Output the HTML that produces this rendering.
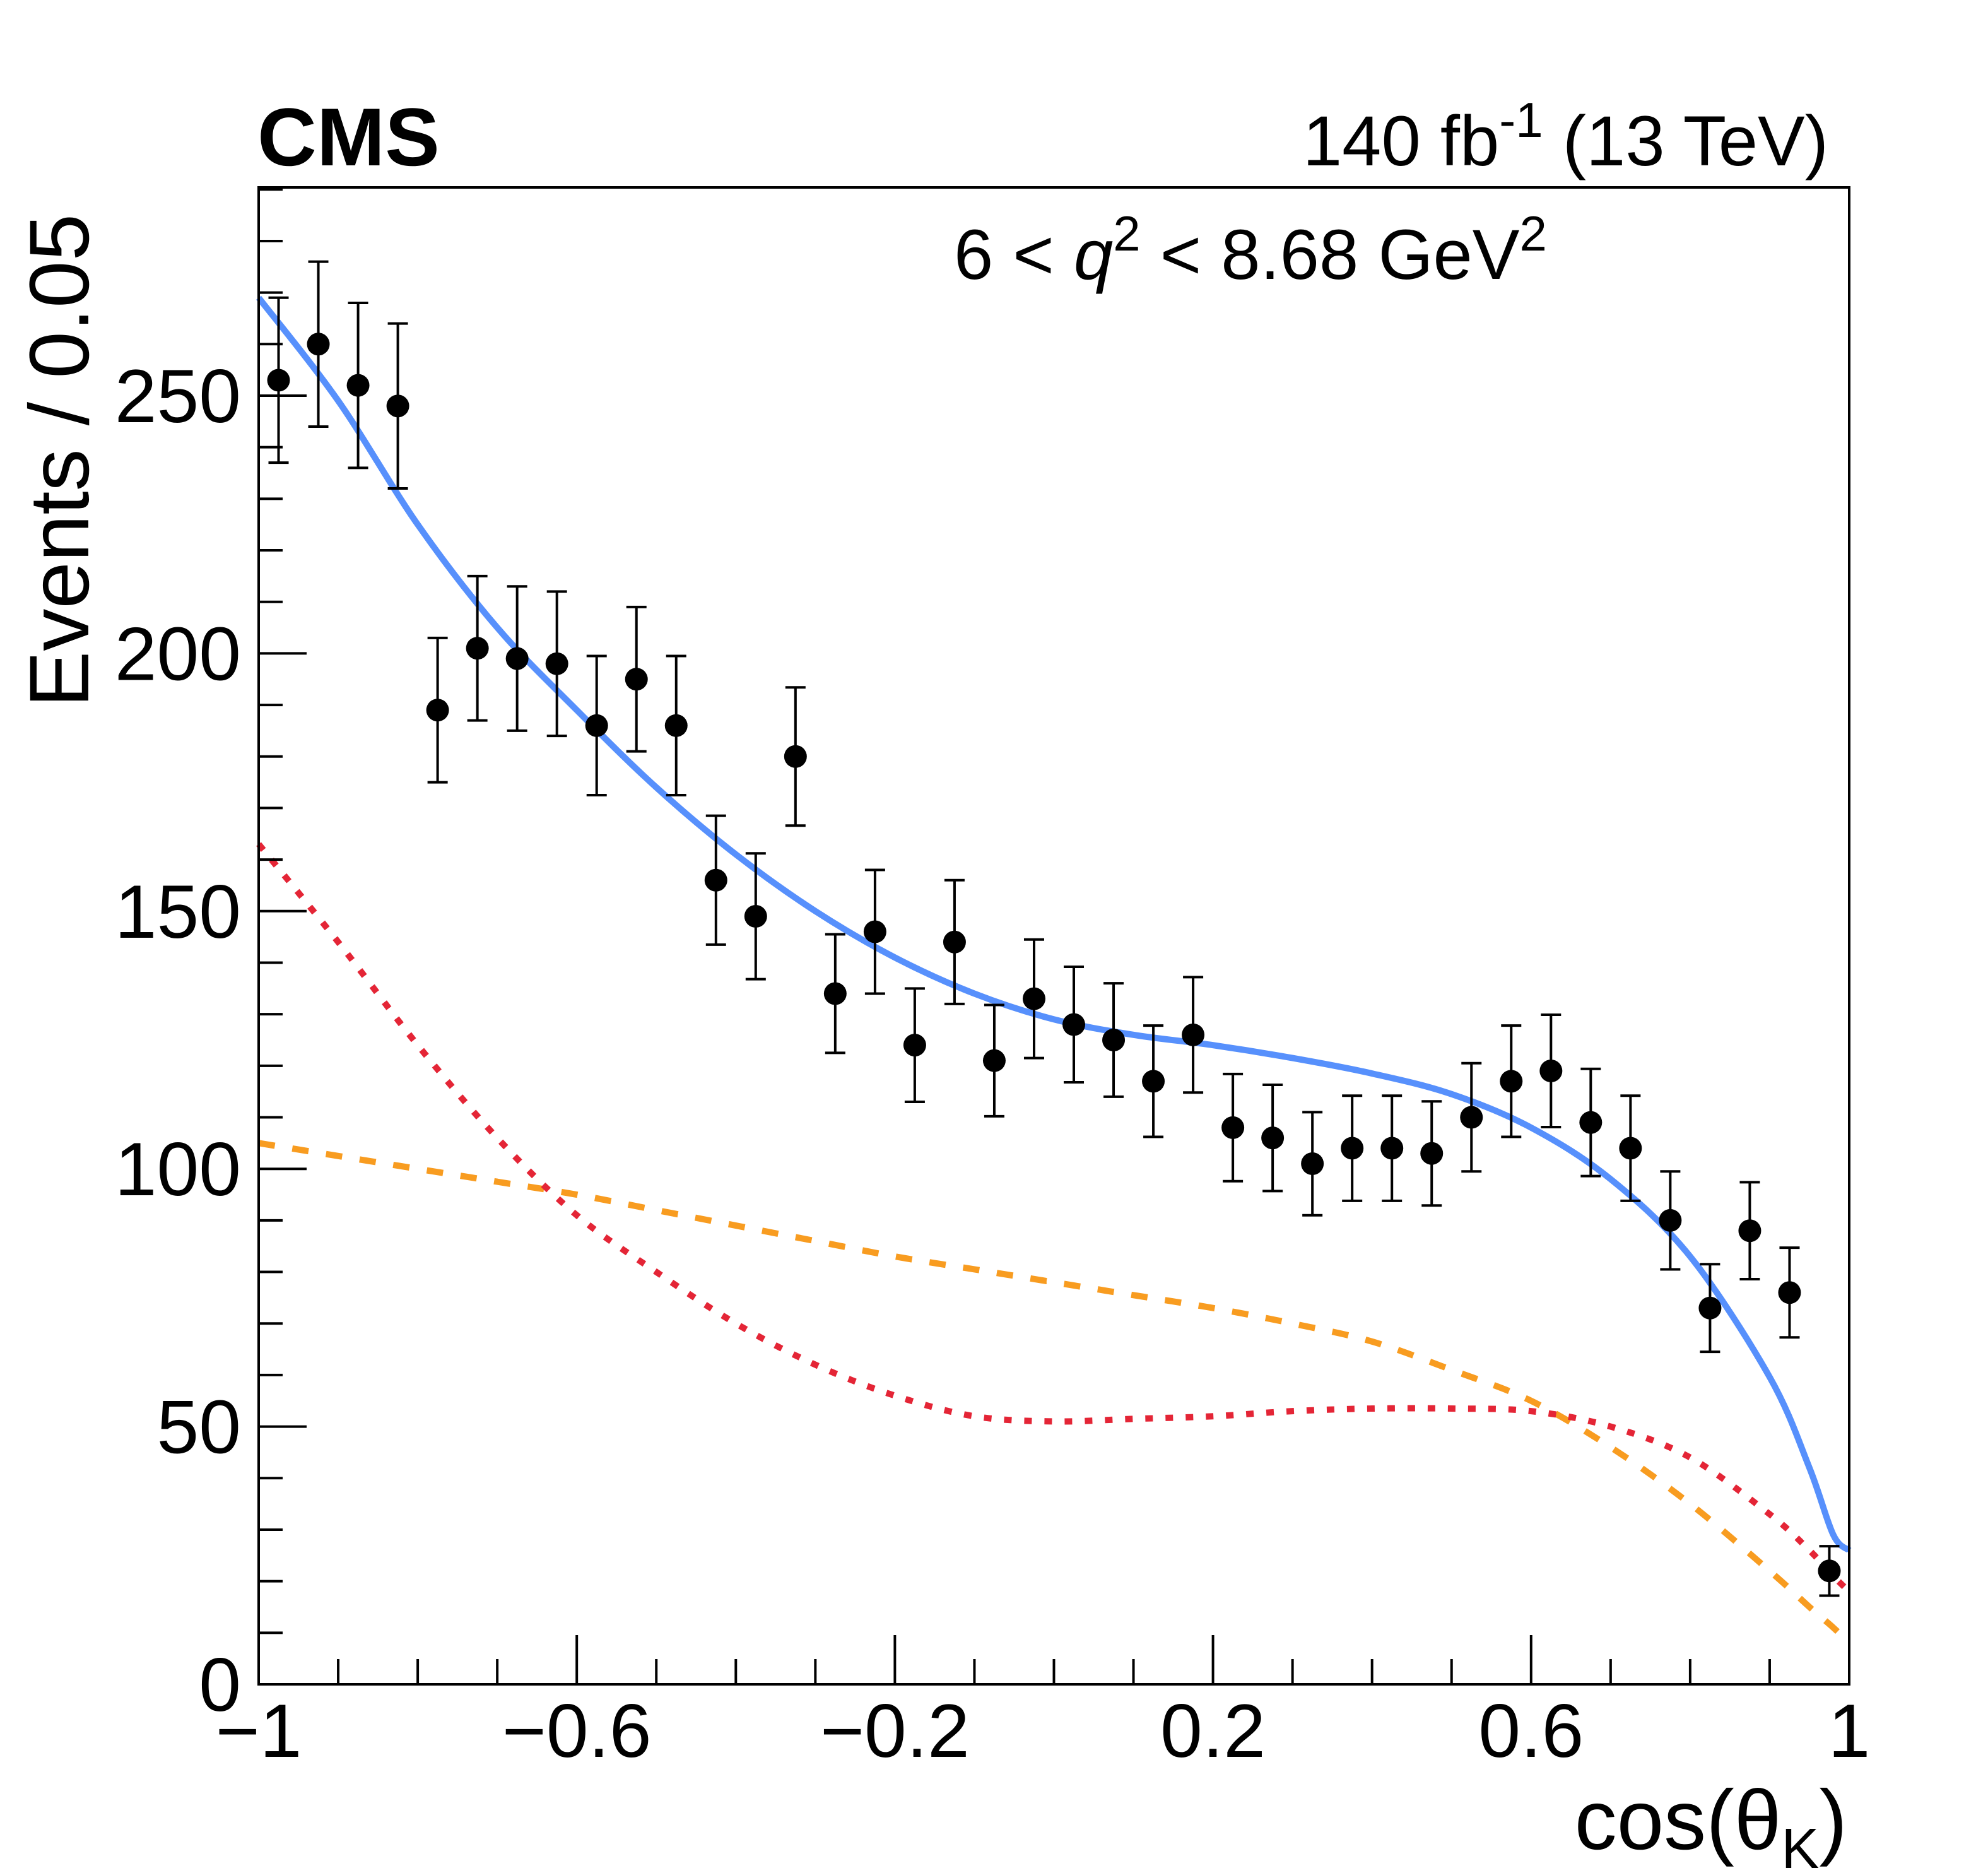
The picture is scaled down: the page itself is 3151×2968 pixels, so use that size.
<!DOCTYPE html>
<html><head><meta charset="utf-8"><style>
html,body{margin:0;padding:0;background:#fff;}
svg{display:block;font-family:"Liberation Sans",Arial,sans-serif;}
</style></head><body>
<svg id="chart" width="3151" height="2968" viewBox="0 0 3151 2968" xmlns="http://www.w3.org/2000/svg">
<rect width="3151" height="2968" fill="#fff"/>
<g id="curves"></g>
<g id="points"></g>
<g id="axes"></g>
<text x="408" y="262" font-size="130" font-weight="bold">CMS</text>
<text x="2898" y="262" font-size="112" text-anchor="end">140 fb<tspan dy="-45" font-size="78">-1</tspan><tspan dy="45"> (13 TeV)</tspan></text>
<text x="1512" y="442" font-size="112">6 &lt; <tspan font-style="italic">q</tspan><tspan dy="-45" font-size="78">2</tspan><tspan dy="45"> &lt; 8.68 GeV</tspan><tspan dy="-45" font-size="78">2</tspan></text>
<text transform="translate(140,730) rotate(-90)" font-size="134" text-anchor="middle">Events / 0.05</text>
<text x="2928" y="2930" font-size="134" text-anchor="end">cos(θ<tspan dy="30" font-size="90">K</tspan><tspan dy="-30">)</tspan></text>
</svg>
<script>
const binCenters = [-0.975,-0.925,-0.875,-0.825,-0.775,-0.725,-0.675,-0.625,-0.575,-0.525,-0.475,-0.425,-0.375,-0.325,-0.275,-0.225,-0.175,-0.125,-0.075,-0.025,0.025,0.075,0.125,0.175,0.225,0.275,0.325,0.375,0.425,0.475,0.525,0.575,0.625,0.675,0.725,0.775,0.825,0.875,0.925,0.975];
const counts = [253,260,252,248,189,201,199,198,186,195,186,156,149,180,134,146,124,144,121,133,128,125,117,126,108,106,101,104,104,103,110,117,119,109,104,90,73,88,76,22];
const errors = [16,16,16,16,14,14,14,14,13.5,14,13.5,12.5,12.2,13.4,11.5,12,11,12,10.8,11.5,11.2,11,10.8,11.2,10.4,10.3,10,10.2,10.2,10.1,10.5,10.8,10.9,10.4,10.2,9.5,8.5,9.4,8.7,4.8];
const curveX = [-1,-0.9,-0.8,-0.7,-0.6,-0.5,-0.4,-0.3,-0.2,-0.1,0,0.1,0.2,0.3,0.4,0.5,0.6,0.7,0.8,0.9,0.95,0.98,1];
const totalFit = [269,249,225,205,189,174,161,150,141,134,129,126,124,121.5,118.5,114.5,108,98,83,59.6,42,29,26];
const dashedComp = [105,102.5,100,97.5,95,92,89,86,83,80.5,78,75.5,73,70,66.5,61,55,46,35,22,15,11,8];
const dottedComp = [163,144,124,106,91,80,70,62,56,52,51,51.5,52,53,53.5,53.5,53,50,44,33,26,21,18];
const yTickLabels = ["0","50","100","150","200","250"];
const xTickLabels = ["−1","−0.6","−0.2","0.2","0.6","1"];

const L=410,R=2931,T=297,B=2669,YMAX=290.4;
const NS="http://www.w3.org/2000/svg";
function sx(v){return L+(v+1)/2*(R-L);}
function sy(v){return B-v/YMAX*(B-T);}
function mk(tag,attrs,parent){const e=document.createElementNS(NS,tag);for(const k in attrs)e.setAttribute(k,attrs[k]);parent.appendChild(e);return e;}
function smooth(xs,ys){
  const p=xs.map((x,i)=>[sx(x),sy(ys[i])]);
  let d="M"+p[0][0]+","+p[0][1];
  for(let i=0;i<p.length-1;i++){
    const p0=p[Math.max(0,i-1)],p1=p[i],p2=p[i+1],p3=p[Math.min(p.length-1,i+2)];
    const c1=[p1[0]+(p2[0]-p0[0])/6,p1[1]+(p2[1]-p0[1])/6];
    const c2=[p2[0]-(p3[0]-p1[0])/6,p2[1]-(p3[1]-p1[1])/6];
    d+=" C"+c1[0]+","+c1[1]+" "+c2[0]+","+c2[1]+" "+p2[0]+","+p2[1];
  }
  return d;
}
const cg=document.getElementById('curves');
let c;
c=mk('path',{d:smooth(curveX,dashedComp),fill:'none',stroke:'#f89c20','stroke-width':10,'stroke-dasharray':'26 28'},cg);


c=mk('path',{d:smooth(curveX,dottedComp),fill:'none',stroke:'#e42536','stroke-width':10,'stroke-dasharray':'12 20'},cg);


c=mk('path',{d:smooth(curveX,totalFit),fill:'none',stroke:'#5790fc','stroke-width':10},cg);



const pg=document.getElementById('points');
binCenters.forEach((x,i)=>{
  const g=mk('g',{},pg);
  
  
  const X=sx(x),y0=sy(counts[i]-errors[i]),y1=sy(counts[i]+errors[i]);
  mk('line',{x1:X,x2:X,y1:y0,y2:y1,stroke:'#000','stroke-width':4},g);
  mk('line',{x1:X-16,x2:X+16,y1:y0,y2:y0,stroke:'#000','stroke-width':4},g);
  mk('line',{x1:X-16,x2:X+16,y1:y1,y2:y1,stroke:'#000','stroke-width':4},g);
  mk('circle',{cx:X,cy:sy(counts[i]),r:18,fill:'#000'},g);
});

const ag=document.getElementById('axes');
const fr=mk('rect',{x:L,y:T,width:R-L,height:B-T,fill:'none',stroke:'#000','stroke-width':4},ag);


for(let v=0;v<=290;v+=10){
  const major=v%50===0;
  mk('line',{x1:L,x2:L+(major?76:38),y1:sy(v),y2:sy(v),stroke:'#000','stroke-width':4},ag);
}
yTickLabels.forEach((s,i)=>{
  const t=mk('text',{x:382,y:sy(i*50)+42,'font-size':120,'text-anchor':'end'},ag);
  t.textContent=s;
  
  
});
for(let k=0;k<=20;k++){
  const v=-1+k*0.1;
  const major=(k%4===0);
  mk('line',{x1:sx(v),x2:sx(v),y1:B,y2:B-(major?78:40),stroke:'#000','stroke-width':4},ag);
}
xTickLabels.forEach((s,i)=>{
  const t=mk('text',{x:sx(-1+i*0.4),y:2784,'font-size':120,'text-anchor':'middle'},ag);
  t.textContent=s;
  
  
});
</script>
</body></html>
